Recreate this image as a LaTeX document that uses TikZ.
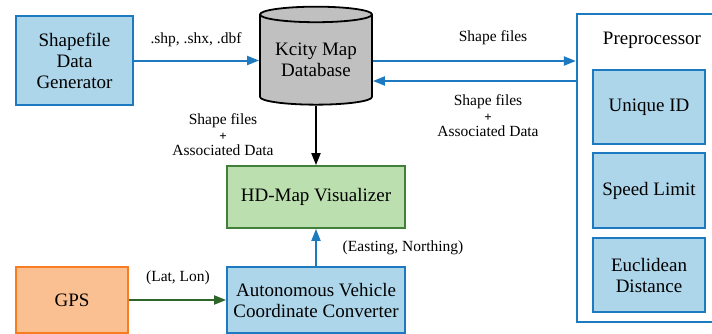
\documentclass[tikz,border=0pt]{standalone}
\usepackage{fontspec}
\setmainfont{Liberation Serif}
\usetikzlibrary{shapes.geometric, arrows.meta, positioning}

\definecolor{boxfill}{RGB}{173,214,234}
\definecolor{boxline}{RGB}{30,122,192}
\definecolor{visfill}{RGB}{187,223,175}
\definecolor{visline}{RGB}{64,128,56}
\definecolor{gpsfill}{RGB}{251,192,146}
\definecolor{gpsline}{RGB}{246,126,32}
\definecolor{dbfill}{RGB}{192,192,192}
\definecolor{gpsarrow}{RGB}{45,102,40}

\begin{document}
\begin{tikzpicture}[x=1pt, y=-1pt,
    every node/.style={font=\fontsize{19}{21}\selectfont},
    procbox/.style={draw=boxline, fill=boxfill, line width=1.8pt, align=center, inner sep=0pt},
    visbox/.style={draw=visline, fill=visfill, line width=1.8pt, align=center, inner sep=0pt},
    gpsbox/.style={draw=gpsline, fill=gpsfill, line width=1.8pt, align=center, inner sep=0pt},
    dbshape/.style={cylinder, shape border rotate=90, aspect=0.19, draw=black, fill=dbfill, line width=1.8pt, align=center, inner sep=0pt},
    lbl/.style={font=\fontsize{15.5}{17.5}\selectfont, align=center},
    bluearrow/.style={-{Triangle[length=12pt, width=9pt]}, draw=boxline, line width=2pt},
    blackarrow/.style={-{Triangle[length=12pt, width=9pt]}, draw=black, line width=2pt},
    greenarrow/.style={-{Triangle[length=12pt, width=9pt]}, draw=gpsarrow, line width=2pt}
]
    \clip (0,0) rectangle (712,333);

    % Left column
    \node (gen) [procbox, minimum width=117pt, minimum height=89pt] at (74.5,60.5) {Shapefile\\Data\\Generator};
    \node (gps) [gpsbox, minimum width=112pt, minimum height=66pt] at (72,300) {GPS};

    % Database
    \node (db) [dbshape, minimum width=112pt, minimum height=98pt] at (316,60) {Kcity Map\\Database};

    % Centre column
    \node (vis) [visbox, minimum width=178pt, minimum height=62pt] at (316,197) {HD-Map Visualizer};
    \node (conv) [procbox, minimum width=178pt, minimum height=66pt] at (316,300) {Autonomous Vehicle\\Coordinate Converter};

    % Preprocessor
    \node (prep) [draw=boxline, line width=2.2pt, minimum width=150pt, minimum height=308pt] at (652,168) {};
    \node (preplbl) at (652,40) {Preprocessor};
    \node (uid) [procbox, minimum width=112pt, minimum height=74pt] at (649,107) {Unique ID};
    \node (speed) [procbox, minimum width=112pt, minimum height=75pt] at (649,190.5) {Speed Limit};
    \node (dist) [procbox, minimum width=112pt, minimum height=74pt] at (649,275) {Euclidean\\Distance};

    % Flows
    \draw [bluearrow] (gen.east) -- (gen.east -| db.west);
    \node (extlbl) [lbl] at (196,40) {.shp, .shx, .dbf};

    \draw [bluearrow] (db.east |- 0,61) -- (prep.west |- 0,61);
    \node (outlbl) [lbl] at (493,38) {Shape files};
    \draw [bluearrow] (prep.west |- 0,81) -- (db.east |- 0,81);
    \node (backlbl) [lbl] at (488,116) {Shape files\\[-2pt]{\fontsize{13}{13}\selectfont\textbf{+}}\\[-2pt]Associated Data};

    \draw [blackarrow] (db.south) -- (vis.north);
    \node (vislbl) [lbl] at (223,135) {Shape files\\[-2pt]{\fontsize{13}{13}\selectfont\textbf{+}}\\[-2pt]Associated Data};

    \draw [bluearrow] (conv.north) -- (vis.south);
    \node (enlbl) [lbl] at (403,248) {(Easting, Northing)};

    \draw [greenarrow] (gps.east) -- (conv.west |- gps.east);
    \node (latlbl) [lbl] at (178,278) {(Lat, Lon)};

\end{tikzpicture}
\end{document}
